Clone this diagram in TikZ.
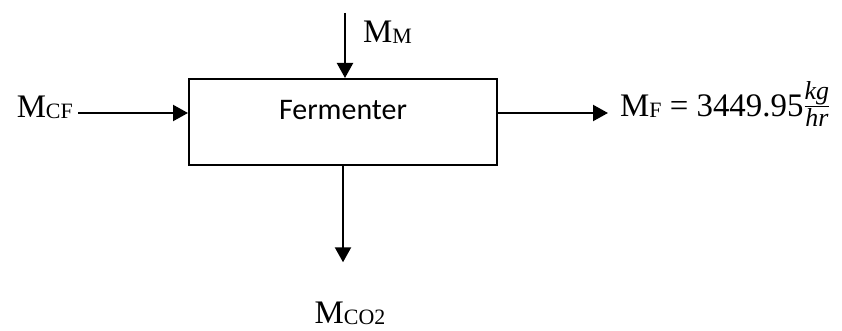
\documentclass[tikz,border=0pt]{standalone}
\usepackage{amsmath}
\usepackage{fontspec}
\setmainfont{Liberation Serif}
\newfontfamily\calibri{Carlito}
\usetikzlibrary{arrows.meta,positioning}
\newcommand{\lowtext}[1]{\raisebox{-1.5bp}{\fontsize{22}{22}\selectfont #1}}
\newcommand{\itsmall}[1]{\mbox{\fontsize{26}{26}\selectfont\itshape #1}}

\begin{document}
\begin{tikzpicture}[
    x=1bp, y=1bp,
    every node/.style={inner sep=0pt},
    stream/.style={font=\fontsize{33}{35}\selectfont},
    reactor/.style={draw, line width=2bp, minimum width=308bp, minimum height=86bp},
    flow/.style={line width=2.2bp, -{Triangle[length=15bp,width=16bp]}}
  ]
    \useasboundingbox (0,0) rectangle (842,330);

    % Fermenter unit
    \node[reactor] (fermenter) at (343,208) {};
    \node[font=\calibri\fontsize{30}{32}\selectfont, anchor=base] (fermtext) at ([yshift=2.7bp]fermenter.center) {Fermenter};

    % Stream labels
    \node[stream, anchor=base east] (mcf) at (73,213) {M\lowtext{CF}};
    \node[stream, anchor=base west] (mm) at (363,288) {M\lowtext{M}};
    \node[stream, anchor=base west] (mf) at (620,214) {M\lowtext{F} = 3449.95\raisebox{3bp}{$\frac{\itsmall{kg}}{\itsmall{hr}}$}};
    \node[stream, anchor=base] (mco2) at (350,7) {M\lowtext{CO2}};
    \coordinate (mmtop) at (345,317);

    % Streams in and out
    \draw[flow] ([xshift=5bp,yshift=4bp]mcf.base east) -- ([yshift=4bp]mcf.base -| fermenter.west);
    \draw[flow] (mmtop) -- (mmtop |- fermenter.north);
    \draw[flow] ([yshift=3bp]mf.base -| fermenter.east) -- ([xshift=-12bp,yshift=3bp]mf.base west);
    \draw[flow] (fermenter.south) -- ([yshift=39bp]mco2.north -| fermenter.south);

\end{tikzpicture}
\end{document}
